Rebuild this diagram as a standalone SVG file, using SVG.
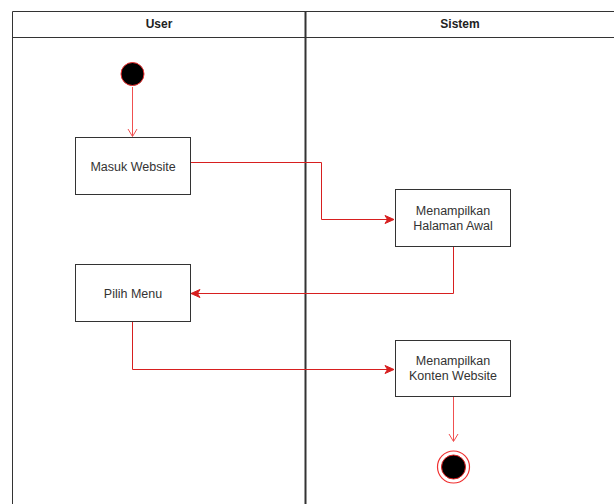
<svg xmlns="http://www.w3.org/2000/svg" width="614" height="504" viewBox="0 0 614 504">
  <style>
    .lane { fill: none; stroke: #333; stroke-width: 1; }
    .head { font-family: "Liberation Sans", Arial, sans-serif; font-size: 12px; font-weight: bold; fill: #222; text-anchor: middle; }
    .box { fill: #fff; stroke: #333; stroke-width: 1; }
    .lbl { font-family: "Liberation Sans", Arial, sans-serif; font-size: 12.5px; fill: #333; text-anchor: middle; }
    .flow { fill: none; stroke: #d71f1f; stroke-width: 1; }
    .flow-light { fill: none; stroke: #f05050; stroke-width: 1; }
  </style>
  <defs>
    <marker id="block" markerWidth="12" markerHeight="12" refX="10" refY="6" orient="auto" markerUnits="userSpaceOnUse">
      <path d="M1,2 L10,6 L1,10 L3.5,6 Z" fill="#d71f1f" stroke="#d71f1f" stroke-width="1"/>
    </marker>
    <marker id="open" markerWidth="12" markerHeight="12" refX="6" refY="10" orient="0" markerUnits="userSpaceOnUse">
      <path d="M1.5,3 L6,10.5 L10.5,3" fill="none" stroke="#f05050" stroke-width="1"/>
    </marker>
  </defs>

  <rect width="614" height="504" fill="#fff"/>

  <!-- swimlanes -->
  <g id="lanes">
    <path class="lane" d="M12.5,504 V11.5 H614 M12.5,37.5 H614"/>
    <path d="M305.5,11 V504" stroke="#333" stroke-width="2"/>
    <text class="head" x="159" y="28">User</text>
    <text class="head" x="460" y="28">Sistem</text>
  </g>

  <!-- connectors -->
  <g id="connectors">
    <path class="flow-light" d="M132.5,87 V136" marker-end="url(#open)"/>
    <path class="flow" d="M190,162.5 H321.5 V219.5 H394" marker-end="url(#block)"/>
    <path class="flow" d="M453.5,246 V293.5 H191" marker-end="url(#block)"/>
    <path class="flow" d="M132.5,321 V369.5 H394" marker-end="url(#block)"/>
    <path class="flow-light" d="M453.5,396 V441" marker-end="url(#open)"/>
  </g>

  <g id="start">
    <circle cx="132.5" cy="74" r="11.5" fill="#000" stroke="#f03030" stroke-width="1"/>
  </g>

  <g id="masuk-website">
    <rect class="box" x="75.5" y="137.5" width="115" height="57"/>
    <text class="lbl" x="133" y="171">Masuk Website</text>
  </g>

  <g id="halaman-awal">
    <rect class="box" x="395.5" y="189.5" width="115" height="57"/>
    <text class="lbl" x="453" y="215">Menampilkan</text>
    <text class="lbl" x="453" y="230">Halaman Awal</text>
  </g>

  <g id="pilih-menu">
    <rect class="box" x="75.5" y="264.5" width="115" height="57"/>
    <text class="lbl" x="133" y="298">Pilih Menu</text>
  </g>

  <g id="konten-website">
    <rect class="box" x="395.5" y="340.5" width="115" height="56"/>
    <text class="lbl" x="453" y="365">Menampilkan</text>
    <text class="lbl" x="453" y="380">Konten Website</text>
  </g>

  <g id="end">
    <circle cx="453.5" cy="467" r="16" fill="#fff" stroke="#f03030" stroke-width="1.2"/>
    <circle cx="453.5" cy="467" r="12" fill="#000" stroke="#e02020" stroke-width="1"/>
  </g>
</svg>
